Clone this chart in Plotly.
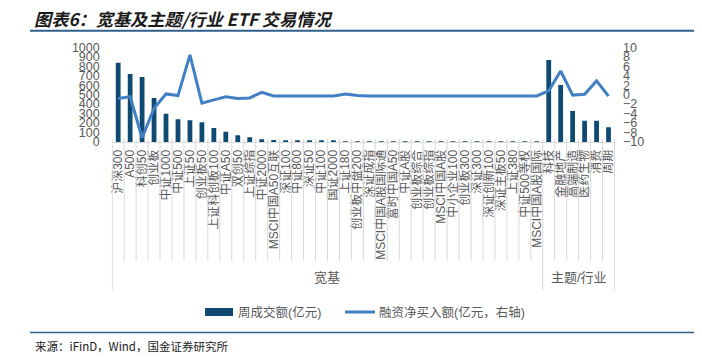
import plotly.graph_objects as go

broad = ["沪深300", "A500", "科创50", "创业板", "中证1000", "中证500", "上证50", "创业板50",
         "上证科创板100", "中证A50", "双创50", "上证综指", "中证2000", "MSCI中国A50互联",
         "深证100", "中证800", "深证50", "中证100", "国证2000", "上证180", "创业板中盘200",
         "深证成指", "MSCI中国A股国际通", "富时中国A50", "中证A股", "创业板综合", "创业板综指",
         "MSCI中国A股", "中小企业100", "创业板300", "深证300", "深证创新100", "深证主板50",
         "上证380", "中证500等权", "MSCI中国A股国际"]
theme = ["科技", "金融地产", "高端制造", "医药生物", "消费", "周期"]
categories = broad + theme
groups = ["宽基", "主题/行业"]
series_names = ["周成交额(亿元)", "融资净买入额(亿元，右轴)"]

turnover = [837, 718, 686, 465, 299, 240, 229, 208, 148, 109, 71, 50, 28, 21,
            18, 15, 12, 10, 8, 7, 6, 5, 5, 4, 4, 3, 3, 3, 2, 2, 2, 2, 2, 1, 1, 1,
            866, 602, 327, 225, 225, 155]
net_buy = [-0.8, -0.45, -9.1, -2.9, 0.15, -0.2, 8.4, -1.8, -1.1, -0.45, -0.8, -0.7,
           0.5, -0.28, -0.28, -0.28, -0.28, -0.28, -0.28, 0.15, -0.2, -0.28, -0.28,
           -0.28, -0.28, -0.28, -0.28, -0.28, -0.28, -0.28, -0.28, -0.28, -0.28,
           -0.28, -0.28, -0.28, 0.8, 5.0, -0.1, 0.1, 2.9, -0.3]

BAR = "#0E4A72"
LINE = "#4180C4"
GREY = "#595959"
GRID = "#D9D9D9"
FONT = "Liberation Sans, Noto Sans CJK SC, sans-serif"
W, H = 702, 359

x0p, x1p = 111.7 / W, 615 / W
y0p, y1p = 1 - 142 / H, 1 - 47.3 / H

fig = go.Figure()
fig.add_trace(go.Bar(x=categories, y=turnover, name=series_names[0],
                     marker=dict(color=BAR, line=dict(width=0)), yaxis="y"))
fig.add_trace(go.Scatter(x=categories, y=net_buy, name=series_names[1],
                         mode="lines", line=dict(color=LINE, width=3), yaxis="y2"))

shapes = []
n = len(categories)
nb = len(broad)
for i in range(n + 1):
    big = i in (0, nb, n)
    shapes.append(dict(type="line", xref="x", yref="paper", x0=i - 0.5, x1=i - 0.5,
                       y0=1 - (290 if big else 261) / H, y1=1 - 139 / H,
                       line=dict(color=GRID, width=1)))
# header and footer rules
shapes.append(dict(type="line", xref="paper", yref="paper", x0=30 / W, x1=694 / W,
                   y0=1 - 30.7 / H, y1=1 - 30.7 / H, line=dict(color="#2F5F8A", width=2)))
shapes.append(dict(type="line", xref="paper", yref="paper", x0=30 / W, x1=694 / W,
                   y0=1 - 332.5 / H, y1=1 - 332.5 / H, line=dict(color="#2F5F8A", width=1.5)))
# legend keys
LEG_Y = 312
shapes.append(dict(type="rect", xref="paper", yref="paper", x0=205 / W, x1=233 / W,
                   y0=1 - (LEG_Y + 4) / H, y1=1 - (LEG_Y - 4) / H,
                   fillcolor=BAR, line=dict(width=0)))
shapes.append(dict(type="line", xref="paper", yref="paper", x0=345 / W, x1=375 / W,
                   y0=1 - LEG_Y / H, y1=1 - LEG_Y / H, line=dict(color=LINE, width=3)))

annotations = [
    dict(text="<b><i>图表6：宽基及主题/行业 ETF 交易情况</i></b>", xref="paper", yref="paper",
         x=32 / W, y=1 - 18 / H, xanchor="left", yanchor="middle", showarrow=False,
         font=dict(family="Noto Sans CJK SC", size=17.2, color="#1A1A1A")),
    dict(text="来源：iFinD，Wind，国金证券研究所", xref="paper", yref="paper",
         x=33 / W, y=1 - 346 / H, xanchor="left", yanchor="middle", showarrow=False,
         font=dict(family="Noto Sans CJK SC", size=11.5, color="#1A1A1A")),
    dict(text=groups[0], xref="x", yref="paper", x=(nb - 1) / 2, y=1 - 277 / H,
         xanchor="center", yanchor="middle", showarrow=False,
         font=dict(family=FONT, size=13, color=GREY)),
    dict(text=groups[1], xref="x", yref="paper", x=nb + (len(theme) - 1) / 2, y=1 - 277 / H,
         xanchor="center", yanchor="middle", showarrow=False,
         font=dict(family=FONT, size=13, color=GREY)),
    dict(text=series_names[0], xref="paper", yref="paper", x=236 / W, y=1 - LEG_Y / H,
         xanchor="left", yanchor="middle", showarrow=False,
         font=dict(family=FONT, size=12.5, color=GREY)),
    dict(text=series_names[1], xref="paper", yref="paper", x=377 / W, y=1 - LEG_Y / H,
         xanchor="left", yanchor="middle", showarrow=False,
         font=dict(family=FONT, size=12.5, color=GREY)),
]

fig.update_layout(
    width=W, height=H, margin=dict(l=0, r=0, t=0, b=0, autoexpand=False),
    paper_bgcolor="white", plot_bgcolor="white",
    bargap=0.6, showlegend=False,
    font=dict(family=FONT, color=GREY),
    xaxis=dict(domain=[x0p, x1p], type="category", tickangle=-90,
               tickmode="array", tickvals=categories, ticktext=categories,
               tickfont=dict(family=FONT, size=12, color=GREY),
               showgrid=False, showline=True, linecolor=GRID, linewidth=1,
               ticks="", ticklabelstandoff=2, anchor="y", automargin=False),
    yaxis=dict(domain=[y0p, y1p], range=[0, 1000], dtick=100, showgrid=False,
               zeroline=False, showline=False, ticks="", automargin=False,
               tickfont=dict(family=FONT, size=12.5, color=GREY), ticklabelstandoff=11),
    yaxis2=dict(overlaying="y", side="right", range=[-10, 10], dtick=2, showgrid=False,
                zeroline=False, showline=False, ticks="", automargin=False,
                tickfont=dict(family=FONT, size=12.5, color=GREY), ticklabelstandoff=7),
    shapes=shapes, annotations=annotations,
)

fig.write_html("out.html", config={"displayModeBar": False},
               post_script="document.body.style.margin='0';document.body.style.overflow='hidden';")
